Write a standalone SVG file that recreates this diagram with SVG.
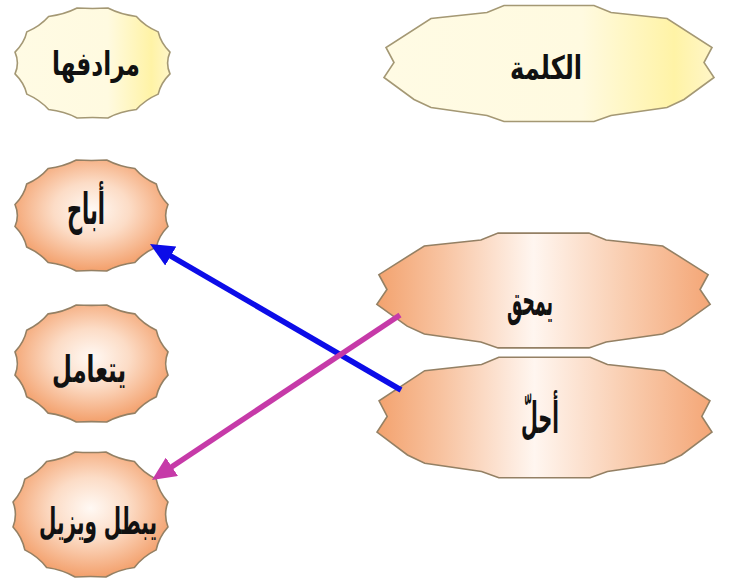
<svg xmlns="http://www.w3.org/2000/svg" xmlns:xlink="http://www.w3.org/1999/xlink" width="731" height="585" viewBox="0 0 731 585">
<defs>
<style>
.lbl{font-family:"DejaVu Sans",sans-serif;font-weight:bold;fill:#111;text-anchor:middle}
.shape{stroke:#948064;stroke-width:1.6;stroke-linejoin:miter}
.ys{stroke:#A49874}
.conn{fill:none;stroke-width:5.5;stroke-linecap:butt}
</style>
<radialGradient id="gO" cx="50%" cy="45%" r="55%">
<stop offset="0" stop-color="#FFF9F4"/>
<stop offset="0.45" stop-color="#FCDCC6"/>
<stop offset="1" stop-color="#F3A06C"/>
</radialGradient>
<linearGradient id="gOW" x1="0" y1="0" x2="1" y2="0">
<stop offset="0" stop-color="#F3A26E"/>
<stop offset="0.2" stop-color="#F8C4A2"/>
<stop offset="0.47" stop-color="#FFF6F0"/>
<stop offset="0.75" stop-color="#F9CCAE"/>
<stop offset="1" stop-color="#F4A676"/>
</linearGradient>
<linearGradient id="gY" x1="0" y1="0" x2="1" y2="0">
<stop offset="0" stop-color="#FFFBE4"/>
<stop offset="0.6" stop-color="#FFFAE0"/>
<stop offset="0.88" stop-color="#FFF3A6"/>
<stop offset="1" stop-color="#FFF6C8"/>
</linearGradient>
<path id="seal" vector-effect="non-scaling-stroke" d="M98.08,19.51 Q86.38,35.78 83.15,55.56 Q66.11,66.11 55.56,83.15 Q35.78,86.38 19.51,98.08 Q0,96.5 -19.51,98.08 Q-35.78,86.38 -55.56,83.15 Q-66.11,66.11 -83.15,55.56 Q-86.38,35.78 -98.08,19.51 Q-92,0 -98.08,-19.51 Q-86.38,-35.78 -83.15,-55.56 Q-66.11,-66.11 -55.56,-83.15 Q-35.78,-86.38 -19.51,-98.08 Q0,-96.5 19.51,-98.08 Q35.78,-86.38 55.56,-83.15 Q66.11,-66.11 83.15,-55.56 Q86.38,-35.78 98.08,-19.51 Q92,0 98.08,19.51 Z"/>
<path id="wide" vector-effect="non-scaling-stroke" d="M-45,-58 L45,-58 L62,-51 L118,-45 L163,-16 L155,-1 L165,14 L135,36 L118,44 L62,52 L45,58 L-45,58 L-62,52 L-118,44 L-135,36 L-165,14 L-155,-1 L-163,-16 L-118,-45 L-62,-51 Z"/>
<marker id="arB" markerUnits="userSpaceOnUse" markerWidth="24" markerHeight="22" viewBox="0 0 24 22" refX="10" refY="11" orient="auto">
<path d="M0,0 L24,11 L0,22 Z" fill="#0C0CE8"/>
</marker>
<marker id="arM" markerUnits="userSpaceOnUse" markerWidth="24" markerHeight="22" viewBox="0 0 24 22" refX="10" refY="11" orient="auto">
<path d="M0,0 L24,11 L0,22 Z" fill="#C63AA8"/>
</marker>
</defs>
<rect width="731" height="585" fill="#ffffff"/>
<g id="node-muradifuha">
<use xlink:href="#seal" href="#seal" class="shape ys" fill="url(#gY)" transform="translate(92.5,63) scale(0.79,0.56)"/>
<text class="lbl" transform="translate(96,75) scale(1,1.2)" font-size="27" textLength="88" lengthAdjust="spacingAndGlyphs">مرادفها</text>
</g>
<g id="node-kalima">
<use xlink:href="#wide" href="#wide" class="shape ys" fill="url(#gY)" transform="translate(549,63.5)"/>
<text class="lbl" transform="translate(546,79) scale(1,1.2)" font-size="27" textLength="72" lengthAdjust="spacingAndGlyphs">الكلمة</text>
</g>
<g id="node-abaha">
<use xlink:href="#seal" href="#seal" class="shape" fill="url(#gO)" transform="translate(91.5,215.5) scale(0.78,0.566)"/>
<text class="lbl" transform="translate(86,224) scale(1,1.35)" font-size="32" textLength="38" lengthAdjust="spacingAndGlyphs">أباح</text>
</g>
<g id="node-yatamal">
<use xlink:href="#seal" href="#seal" class="shape" fill="url(#gO)" transform="translate(91.5,363.5) scale(0.78,0.597)"/>
<text class="lbl" transform="translate(89,382) scale(1,1.25)" font-size="29" textLength="74" lengthAdjust="spacingAndGlyphs">يتعامل</text>
</g>
<g id="node-yubtil">
<use xlink:href="#seal" href="#seal" class="shape" fill="url(#gO)" transform="translate(90.5,514.5) scale(0.79,0.637)"/>
<text class="lbl" transform="translate(98,534) scale(1,1.25)" font-size="29" textLength="118" lengthAdjust="spacingAndGlyphs">يبطل ويزيل</text>
</g>
<g id="node-yamhaq">
<use xlink:href="#wide" href="#wide" class="shape" fill="url(#gOW)" transform="translate(543.5,290.5) scale(1.01,0.99)"/>
<text class="lbl" transform="translate(530,315) scale(1,1.3)" font-size="32" textLength="46" lengthAdjust="spacingAndGlyphs">يمحق</text>
</g>
<g id="node-ahalla">
<use xlink:href="#wide" href="#wide" class="shape" fill="url(#gOW)" transform="translate(544.5,417.5) scale(1.015,1.04)"/>
<text class="lbl" transform="translate(540,433) scale(1,1.35)" font-size="32" textLength="38" lengthAdjust="spacingAndGlyphs">أحلّ</text>
</g>
<g id="connectors">
<line class="conn" x1="401" y1="390" x2="162.1" y2="251" stroke="#0C0CE8" marker-end="url(#arB)"/>
<line class="conn" x1="400" y1="315" x2="163.6" y2="472.3" stroke="#C63AA8" marker-end="url(#arM)"/>
</g>
</svg>
